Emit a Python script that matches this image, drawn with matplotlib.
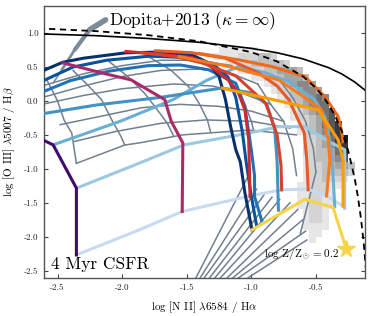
import numpy as np
import matplotlib
matplotlib.use("Agg")
import matplotlib.pyplot as plt

plt.rcParams['font.family'] = 'serif'
plt.rcParams['font.serif'] = ['cmr10']
plt.rcParams['mathtext.fontset'] = 'cm'
plt.rcParams['axes.unicode_minus'] = False

# demarcation curves
kew_x = [-2.65, -2.2, -1.8, -1.4, -1.0, -0.8, -0.6, -0.4, -0.3, -0.2, -0.1]
kew_y = [0.99, 0.962, 0.921, 0.864, 0.775, 0.710, 0.620, 0.489, 0.398, 0.280, 0.129]
kau_x = [-2.65, -2.2, -1.8, -1.4, -1.0, -0.8, -0.6, -0.5, -0.45, -0.4, -0.35, -0.3,
         -0.25, -0.2, -0.175, -0.15, -0.13, -0.11, -0.1]
kau_y = [1.07, 1.029, 0.970, 0.879, 0.719, 0.582, 0.362, 0.191, 0.08, -0.056, -0.225,
         -0.443, -0.733, -1.14, -1.41, -1.75, -2.09, -2.54, -2.77]

# SDSS-like density (rows from y=0.8 downward in 0.1 steps; cols from x=-1.35 in 0.05 steps)
hist_rows = [(2, "111111"), (1, "1111222332"), (3, "1122333332"), (5, "1122334443"),
             (7, "112234443"), (9, "12234554"), (10, "12234554"), (11, "12334565"),
             (12, "1234566"), (13, "1234567"), (13, "1223467"), (14, "1234678"),
             (14, "1234578"), (15, "2234689"), (15, "2234578"), (15, "2233468"),
             (15, "1233457"), (15, "12233443"), (15, "12233332"), (15, "1223221"),
             (14, "1122211"), (14, "112221"), (14, "112211"), (14, "112211"),
             (15, "1221"), (15, "1221"), (15, "1111"), (16, "11"), (16, "1")]

# Dopita+2013 track
dop_x = [-2.128, -2.252, -2.367, -2.467, -2.534]
dop_y = [1.196, 1.049, 0.754, 0.459, 0.263]
dop_w = [4.0, 3.0, 2.0, 1.2]

# grey model grid
grey_lines = [
    ([-2.62, -2.30, -2.00, -1.70, -1.40, -1.15], [0.22, 0.40, 0.52, 0.60, 0.60, 0.52]),
    ([-2.62, -2.30, -2.00, -1.70, -1.40, -1.15, -0.95], [0.05, 0.22, 0.36, 0.45, 0.47, 0.40, 0.25]),
    ([-2.62, -2.30, -2.00, -1.60, -1.30, -1.05, -0.85], [-0.05, 0.08, 0.18, 0.25, 0.22, 0.10, -0.05]),
    ([-2.48, -2.15, -1.85, -1.55, -1.25, -1.00, -0.75], [-0.35, -0.22, -0.10, -0.05, -0.08, -0.15, -0.30]),
    ([-2.375, -2.05, -1.70, -1.35, -1.00, -0.70], [-0.60, -0.45, -0.33, -0.28, -0.30, -0.40]),
    ([-2.354, -1.98, -1.87, -1.53, -1.02, -0.65], [-0.92, -0.65, -0.62, -0.50, -0.43, -0.50]),
    ([-2.58, -2.50, -2.45, -2.39, -2.354], [0.30, 0.0, -0.28, -0.475, -0.92]),
    ([-2.38, -2.27, -2.16, -2.08, -2.01, -1.98], [0.45, 0.24, 0.02, -0.28, -0.52, -0.65]),
    ([-2.10, -1.95, -1.82, -1.72, -1.65, -1.60], [0.58, 0.35, 0.10, -0.15, -0.33, -0.52]),
    ([-1.80, -1.62, -1.48, -1.40, -1.34, -1.315], [0.66, 0.45, 0.20, -0.05, -0.28, -0.46]),
    ([-1.45, -1.25, -1.12, -1.05, -1.00, -0.98], [0.67, 0.45, 0.20, -0.05, -0.30, -0.45]),
    ([-0.95, -0.85, -0.75, -0.68, -0.65], [0.25, -0.05, -0.30, -0.70, -1.10]),
    ([-0.80, -0.68, -0.58, -0.52, -0.50], [0.35, 0.05, -0.30, -0.70, -1.05]),
    ([-1.44, -1.03], [-2.65, -1.13]), ([-1.41, -0.96], [-2.65, -1.30]),
    ([-1.38, -0.90], [-2.65, -1.38]), ([-1.34, -0.84], [-2.65, -1.42]),
    ([-1.30, -0.78], [-2.65, -1.45]), ([-1.26, -0.70], [-2.65, -1.50]),
    ([-1.21, -0.64], [-2.65, -1.60]), ([-1.17, -0.60], [-2.65, -1.75]),
    ([-1.13, -0.58], [-2.65, -1.92]), ([-1.06, -0.57], [-2.65, -2.05]),
    ([-0.62, -0.50], [-1.95, -1.05]),
]

# constant-U tracks (Blues)
u_colors = ['#08306b', '#08519c', '#2171b5', '#4292c6', '#6baed6', '#9ecae1', '#c6dbef']
u_lines = [
    ([-2.62, -2.46, -2.30, -1.97, -1.71, -1.46, -1.33, -1.25, -1.20, -1.16, -1.12, -1.085, -1.05, -0.995],
     [0.44, 0.57, 0.63, 0.71, 0.72, 0.68, 0.56, 0.36, 0.02, -0.38, -0.72, -0.90, -1.35, -1.90]),
    ([-2.62, -2.38, -2.12, -1.79, -1.50, -1.30, -1.18, -1.12, -1.07, -1.04, -1.00, -0.96],
     [0.29, 0.50, 0.60, 0.66, 0.64, 0.55, 0.35, 0.05, -0.45, -0.90, -1.40, -1.83]),
    ([-2.62, -2.40, -2.10, -1.80, -1.55, -1.33, -1.12, -1.05, -1.00, -0.975, -0.975, -0.92],
     [0.13, 0.30, 0.44, 0.52, 0.53, 0.46, 0.26, -0.08, -0.72, -1.10, -1.41, -1.76]),
    ([-2.62, -2.20, -1.713, -1.226, -1.00, -0.88, -0.82, -0.80, -0.79],
     [-0.19, -0.06, 0.05, 0.19, 0.12, -0.05, -0.40, -0.90, -1.61]),
    ([-2.534, -2.015, -1.605, -1.35, -1.098, -0.90, -0.713, -0.508, -0.431, -0.405, -0.37, -0.354],
     [-0.648, -0.30, 0.02, 0.30, 0.507, 0.42, 0.286, 0.016, -0.23, -0.43, -1.0, -1.56]),
    ([-2.354, -1.867, -1.521, -1.02, -0.79, -0.585, -0.38, -0.277, -0.277],
     [-1.286, -0.917, -0.648, -0.475, -0.38, -0.38, -0.62, -0.72, -1.58]),
    ([-2.354, -1.867, -1.535, -1.01, -0.765, -0.56, -0.418, -0.29, -0.277],
     [-2.27, -1.90, -1.63, -1.40, -1.31, -1.30, -1.40, -1.55, -1.58]),
]

# constant-Z tracks
z_colors = ['#3f0a6e', '#a82a68', '#c92d2f', '#d8412f', '#e5592a', '#f47c20', '#ef6a1b', '#ff9c00']
z_lines = [
    ([-2.64, -2.534, -2.354, -2.354], [-0.55, -0.648, -1.286, -2.27]),
    ([-2.457, -2.13, -1.93, -1.77, -1.67, -1.62, -1.53, -1.535],
     [0.56, 0.40, 0.31, 0.13, 0.02, -0.30, -0.62, -1.63]),
    ([-1.97, -1.79, -1.46, -1.33, -1.18, -1.10, -1.05, -1.02, -1.01],
     [0.73, 0.70, 0.64, 0.53, 0.31, 0.12, -0.13, -0.57, -1.41]),
    ([-1.85, -1.60, -1.38, -1.12, -0.89, -0.80, -0.77, -0.765],
     [0.71, 0.66, 0.56, 0.37, -0.03, -0.50, -0.95, -1.31]),
    ([-1.74, -1.46, -1.20, -0.95, -0.80, -0.71, -0.59, -0.57, -0.56],
     [0.74, 0.71, 0.63, 0.42, 0.22, 0.02, -0.47, -0.87, -1.31]),
    ([-1.558, -1.174, -0.79, -0.56, -0.457, -0.405, -0.392, -0.418],
     [0.655, 0.507, 0.311, 0.016, -0.131, -0.574, -0.87, -1.40]),
    ([-1.40, -1.098, -0.842, -0.585, -0.431, -0.328, -0.303, -0.29],
     [0.70, 0.606, 0.507, 0.36, 0.065, -0.23, -0.426, -0.60]),
    ([-1.226, -0.713, -0.482, -0.328, -0.29, -0.29],
     [0.189, -0.032, -0.131, -0.574, -0.869, -1.55]),
]

# highest metallicity track
zmax_x = [-0.995, -0.585, -0.367, -0.265]
zmax_y = [-1.90, -1.45, -1.57, -2.18]

fig = plt.figure(figsize=(3.74, 3.16), dpi=100)
ax = fig.add_axes([0.1176, 0.1203, 0.8583, 0.8608])

# density image
nrow = len(hist_rows)
dens = np.zeros((nrow, 24))
for i, (c0, s) in enumerate(hist_rows):
    for k, ch in enumerate(s):
        dens[i, c0 + k] = int(ch)
dens = np.ma.masked_equal(dens, 0)
xe = np.linspace(-1.35, -0.15, 25)
ye = np.linspace(0.8, 0.8 - 0.1 * nrow, nrow + 1)
ax.pcolormesh(xe, ye, dens, cmap='Greys', vmin=-1, vmax=10, zorder=1, rasterized=True)

for gx, gy in grey_lines:
    ax.plot(gx, gy, color='#71808f', lw=1.1, zorder=2)

for i in range(len(dop_w)):
    ax.plot(dop_x[i:i + 2], dop_y[i:i + 2], color='#7b8b9a', lw=dop_w[i],
            solid_capstyle='round', zorder=2)

for (ux, uy), c in zip(u_lines[::-1], u_colors[::-1]):
    ax.plot(ux, uy, color=c, lw=2.2, zorder=3)

for (zx, zy), c in zip(z_lines, z_colors):
    ax.plot(zx, zy, color=c, lw=2.2, zorder=4)

ax.plot(zmax_x, zmax_y, color='#f6d447', lw=2.2, zorder=4)
ax.plot(zmax_x[-1], zmax_y[-1], marker='*', ms=13, color='#f6d447', mec='#f6d447', zorder=5)

ax.plot(kew_x, kew_y, color='k', lw=1.2, zorder=5)
ax.plot(kau_x, kau_y, color='k', lw=1.3, ls=(0, (3.5, 2.5)), zorder=5)

ax.text(-2.098, 1.122, r'Dopita+2013 ($\kappa = \infty$)', fontsize=12.5, zorder=6)
ax.text(-2.554, -2.48, '4 Myr CSFR', fontsize=12.5, zorder=6)
ax.text(-0.898, -2.295, r'log Z/Z$_\odot = 0.2$', fontsize=8, zorder=6)

ax.set_xlim(-2.605, -0.12)
ax.set_ylim(-2.61, 1.40)
ax.set_xticks([-2.5, -2.0, -1.5, -1.0, -0.5])
ax.set_yticks([-2.5, -2.0, -1.5, -1.0, -0.5, 0.0, 0.5, 1.0])
ax.tick_params(direction='in', length=3, width=0.8, labelsize=6.5, colors='#444444',
               right=True, top=False, labelcolor='#222222', pad=4)
for sp in ax.spines.values():
    sp.set_color('#555555')
    sp.set_linewidth(1.0)
ax.set_xlabel(r'log [N II] $\lambda$6584 / H$\alpha$', fontsize=8, labelpad=5)
ax.set_ylabel(r'log [O III] $\lambda$5007 / H$\beta$', fontsize=8, labelpad=5)

fig.savefig('out.png', dpi=100)
